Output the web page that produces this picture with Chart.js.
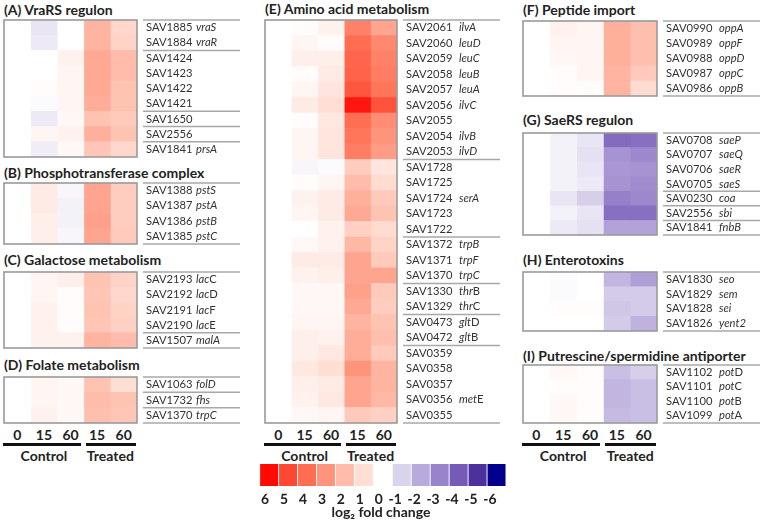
<!DOCTYPE html>
<html>
<head>
<meta charset="utf-8">
<script src="https://cdn.jsdelivr.net/npm/chart.js@4.4.0/dist/chart.umd.min.js"></script>
<style>
  body { margin: 0; background: #fff; }
  #fig { position: relative; width: 760px; height: 523px; font-family: Lato, "Open Sans", sans-serif; color: #222; overflow: hidden; }
  .t { position: absolute; font-weight: bold; font-size: 14px; white-space: nowrap; line-height: 16px; }
  .c { position: absolute; font-weight: bold; font-size: 14px; line-height: 16px; text-align: center; width: 40px; }
  .bar { position: absolute; background: #111; height: 3px; }
  canvas { position: absolute; }
</style>
</head>
<body>
<div id="fig"></div>
<script>
// time points (minutes) and groups
var timePoints = ['0', '15', '60', '15', '60'];
var groupNames = ['Control', 'Treated'];

// each row: control 0, control 15, control 60, treated 15, treated 60 (log2 fold change)
var vraIds = ['SAV1885', 'SAV1884', 'SAV1424', 'SAV1423', 'SAV1422', 'SAV1421', 'SAV1650', 'SAV2556', 'SAV1841'];
var vraGenes = ['vraS', 'vraR', '', '', '', '', '', '', 'prsA'];
var vraValues = [
  [0, -0.6, 0, 2.2, 1.2], [0, -0.5, 0, 2.2, 1.3], [0, 0, 0.4, 2.5, 2.0],
  [0, 0, 0.3, 2.5, 2.0], [0, 0.1, 0.3, 2.5, 1.8], [0, -0.1, 0.3, 2.4, 1.8],
  [0, -0.5, 0.2, 1.8, 1.6], [0, 0.3, 0.4, 2.3, 1.8], [0, -0.4, 0.2, 1.7, 1.2]
];

var pstIds = ['SAV1388', 'SAV1387', 'SAV1386', 'SAV1385'];
var pstGenes = ['pstS', 'pstA', 'pstB', 'pstC'];
var pstValues = [[0, 0.6, -0.2, 2.6, 1.5], [0, 0.6, -0.3, 2.6, 1.5], [0, 0.5, -0.3, 2.7, 1.5], [0, 0.5, -0.2, 2.6, 1.6]];

var galIds = ['SAV2193', 'SAV2192', 'SAV2191', 'SAV2190', 'SAV1507'];
var galGenes = ['lac|C', 'lac|D', 'lac|F', 'lac|E', 'malA'];
var galValues = [[0, 0.3, 0.5, 1.8, 1.3], [0, 0.3, 0.1, 1.7, 1.2], [0, 0.4, 0.1, 1.8, 1.3], [0, 0.4, 0.1, 1.7, 1.4], [0, 0.4, 0.4, 2.2, 2.0]];

var folIds = ['SAV1063', 'SAV1732', 'SAV1370'];
var folGenes = ['folD', 'fhs', 'trpC'];
var folValues = [[0, 0.3, 0.2, 1.8, 1.0], [0, 0.3, 0.2, 2.0, 1.8], [0, 0.4, 0.2, 1.9, 1.7]];

var aaIds = ['SAV2061', 'SAV2060', 'SAV2059', 'SAV2058', 'SAV2057', 'SAV2056', 'SAV2055', 'SAV2054', 'SAV2053',
  'SAV1728', 'SAV1725', 'SAV1724', 'SAV1723', 'SAV1722', 'SAV1372', 'SAV1371', 'SAV1370', 'SAV1330', 'SAV1329',
  'SAV0473', 'SAV0472', 'SAV0359', 'SAV0358', 'SAV0357', 'SAV0356', 'SAV0355'];
var aaGenes = ['ilvA', 'leuD', 'leuC', 'leuB', 'leuA', 'ilvC', '', 'ilvB', 'ilvD',
  '', '', 'serA', '', '', 'trpB', 'trpF', 'trpC', 'thr|B', 'thr|C',
  'glt|D', 'glt|B', '', '', '', 'met|E', ''];
var aaValues = [
  [0, 0.1, 0.4, 3.5, 2.6], [0, 0.3, 0.1, 4.0, 3.3], [0, 0.5, 0.5, 4.2, 3.5], [0, 0.1, 0.6, 4.3, 3.6],
  [0, 0.3, 0.8, 4.6, 3.8], [0, 0.6, 1.0, 5.8, 4.7], [0, 0.1, 0.7, 4.0, 3.2], [0, 0.3, 0.8, 3.8, 3.0],
  [0, 0.3, 0.8, 3.6, 2.8], [0, -0.2, -0.1, 1.5, 0.8], [0, 0.1, 0.3, 2.0, 1.1], [0, 0.4, 0.6, 2.3, 1.6],
  [0, 0.3, 0.6, 2.5, 1.8], [0, 0, 0.4, 1.4, 1.1], [0, 0.2, 0.4, 2.1, 1.3], [0, 0.6, 0.6, 2.6, 1.6],
  [0, 0.4, 0.5, 2.6, 2.6], [0, 0.2, 0.2, 2.7, 1.6], [0, 0.2, 0.2, 2.5, 1.5], [0, 0.3, 0.3, 2.2, 1.8],
  [0, 0.5, 0.4, 2.4, 1.9], [0, 0.5, 0.7, 2.4, 1.6], [0, 0.7, 1.0, 3.0, 2.2], [0, 0.5, 0.6, 2.6, 2.2],
  [0, 0.4, 0.7, 2.6, 2.1], [0, 0.2, 0.3, 1.6, 1.4]
];

var oppIds = ['SAV0990', 'SAV0989', 'SAV0988', 'SAV0987', 'SAV0986'];
var oppGenes = ['oppA', 'oppF', 'oppD', 'oppC', 'oppB'];
var oppValues = [[0, 0.4, 0.3, 2.3, 1.9], [0, 0.3, 0.3, 2.3, 1.9], [0, 0.2, 0.3, 2.3, 1.9], [0, 0.1, 0.3, 2.2, 1.6], [0, 0.1, 0.1, 2.2, 1.1]];

var saeIds = ['SAV0708', 'SAV0707', 'SAV0706', 'SAV0705', 'SAV0230', 'SAV2556', 'SAV1841'];
var saeGenes = ['saeP', 'saeQ', 'saeR', 'saeS', 'coa', 'sbi', 'fnbB'];
var saeValues = [
  [0, -0.3, -0.6, -3.6, -3.5], [0, -0.3, -0.7, -2.6, -2.9], [0, -0.3, -0.6, -2.5, -2.6],
  [0, -0.3, -0.5, -2.6, -2.8], [0, -0.6, -1.1, -3.1, -2.9], [0, -0.3, -0.6, -3.5, -3.5], [0, -0.5, -0.7, -2.2, -2.2]
];

var entIds = ['SAV1830', 'SAV1829', 'SAV1828', 'SAV1826'];
var entGenes = ['seo', 'sem', 'sei', 'yent2'];
var entValues = [[0, -0.1, 0, -1.7, -2.3], [0, -0.1, 0, -1.2, -1.2], [0, 0.1, 0.1, -1.3, -1.2], [0, 0, 0, -1.2, -1.8]];

var potIds = ['SAV1102', 'SAV1101', 'SAV1100', 'SAV1099'];
var potGenes = ['pot|D', 'pot|C', 'pot|B', 'pot|A'];
var potValues = [[0, 0.2, 0.1, -1.5, -1.1], [0, 0.1, 0.1, -1.7, -1.5], [0, 0.2, 0.1, -1.7, -1.5], [0, 0.2, 0.1, -1.6, -1.5]];

// colour key
var scaleSteps = [6, 5, 4, 3, 2, 1, 0, -1, -2, -3, -4, -5, -6];
var scaleTitle = 'log\u2082 fold change';

var redStops = [[255, 255, 255], [255, 222, 212], [255, 188, 170], [255, 148, 124], [255, 110, 82], [255, 72, 50], [255, 10, 5]];
var blueStops = [[255, 255, 255], [218, 211, 236], [184, 170, 220], [152, 132, 203], [118, 90, 184], [76, 48, 158], [0, 0, 140]];

function heat(v) {
  var stops = v >= 0 ? redStops : blueStops;
  var a = Math.min(Math.abs(v), 6);
  var i = Math.min(Math.floor(a), 5), f = a - i;
  var c0 = stops[i], c1 = stops[i + 1];
  var c = c0.map(function (x, k) { return Math.round(x + (c1[k] - x) * f); });
  return 'rgb(' + c.join(',') + ')';
}

var fig = document.getElementById('fig');

function addText(cls, txt, left, top, extra) {
  var d = document.createElement('div');
  d.className = cls;
  d.textContent = txt;
  d.style.left = left + 'px';
  d.style.top = top + 'px';
  if (extra) for (var k in extra) d.style[k] = extra[k];
  fig.appendChild(d);
  return d;
}

// frame, row labels, gene names and group separators
var panelDeco = {
  id: 'panelDeco',
  afterDraw: function (chart) {
    var o = chart.options.deco, ctx = chart.ctx, a = chart.chartArea, ys = chart.scales.y;
    var n = o.ids.length, rowH = (a.bottom - a.top) / n;
    ctx.save();
    ctx.strokeStyle = '#9a9a9a';
    ctx.lineWidth = 1.6;
    ctx.strokeRect(a.left, a.top, a.right - a.left, a.bottom - a.top);
    ctx.strokeStyle = '#a8a8a8';
    ctx.lineWidth = 1.5;
    o.breaks.forEach(function (b) {
      var y = a.top + b * rowH;
      ctx.beginPath();
      ctx.moveTo(a.right + 6, y);
      ctx.lineTo(a.right + 103, y);
      ctx.stroke();
    });
    ctx.fillStyle = '#333';
    ctx.textBaseline = 'middle';
    o.ids.forEach(function (id, i) {
      var y = ys.getPixelForValue(i);
      ctx.font = '11.2px Lato';
      ctx.fillText(id, a.right + 9, y);
      var g = o.genes[i];
      if (!g) return;
      var parts = g.split('|');
      var x = a.right + o.geneOff;
      ctx.font = 'italic 11.2px Lato';
      ctx.fillText(parts[0], x, y);
      if (parts[1]) {
        x += ctx.measureText(parts[0]).width;
        ctx.font = '11.2px Lato';
        ctx.fillText(parts[1], x, y);
      }
    });
    ctx.restore();
  }
};

function panel(p) {
  addText('t', p.title, p.x, p.ty - 8);
  var cv = document.createElement('canvas');
  var W = p.w + 2 + 106, H = p.h + 2;
  cv.width = W; cv.height = H;
  cv.style.left = (p.x - 1) + 'px';
  cv.style.top = (p.y - 1) + 'px';
  fig.appendChild(cv);
  new Chart(cv.getContext('2d'), {
    type: 'bar',
    data: {
      labels: p.ids,
      datasets: timePoints.map(function (tp, j) {
        return {
          label: tp,
          data: p.ids.map(function () { return 1; }),
          backgroundColor: p.values.map(function (r) { return heat(r[j]); }),
          borderWidth: 0,
          barPercentage: 1,
          categoryPercentage: 1
        };
      })
    },
    options: {
      indexAxis: 'y',
      responsive: false,
      animation: false,
      events: [],
      layout: { padding: { top: 1, bottom: 1, left: 1, right: 107 } },
      deco: { ids: p.ids, genes: p.genes, breaks: p.breaks, geneOff: p.geneOff },
      plugins: { legend: { display: false }, tooltip: { enabled: false } },
      scales: {
        x: { stacked: true, min: 0, max: 5, display: false },
        y: { stacked: true, display: false }
      }
    },
    plugins: [panelDeco]
  });
}

function timeAxis(x, w) {
  timePoints.forEach(function (tp, j) {
    addText('c', tp, x + w * (j + 0.5) / 5 - 20, 427);
  });
  var split = x + w * 3 / 5;
  var b1 = document.createElement('div'); b1.className = 'bar';
  b1.style.left = (x - 1) + 'px'; b1.style.top = '443px'; b1.style.width = (split - x - 2) + 'px';
  fig.appendChild(b1);
  var b2 = document.createElement('div'); b2.className = 'bar';
  b2.style.left = (split + 2) + 'px'; b2.style.top = '443px'; b2.style.width = (x + w - split - 3) + 'px';
  fig.appendChild(b2);
  addText('c', groupNames[0], (x + split) / 2 - 35, 448, { width: '70px' });
  addText('c', groupNames[1], (split + x + w) / 2 - 35, 448, { width: '70px' });
}

panel({ title: '(A) VraRS regulon', ids: vraIds, genes: vraGenes, values: vraValues, breaks: [0, 2, 6, 7, 8], x: 4, y: 20, w: 133, h: 137, ty: 10, geneOff: 59 });
panel({ title: '(B) Phosphotransferase complex', ids: pstIds, genes: pstGenes, values: pstValues, breaks: [0, 4], x: 4, y: 183, w: 133, h: 61, ty: 173, geneOff: 59 });
panel({ title: '(C) Galactose metabolism', ids: galIds, genes: galGenes, values: galValues, breaks: [0, 4, 5], x: 4, y: 272, w: 133, h: 76, ty: 260, geneOff: 59 });
panel({ title: '(D) Folate metabolism', ids: folIds, genes: folGenes, values: folValues, breaks: [0, 1, 2, 3], x: 4, y: 377, w: 133, h: 46, ty: 365, geneOff: 59 });
panel({ title: '(E) Amino acid metabolism', ids: aaIds, genes: aaGenes, values: aaValues, breaks: [0, 9, 14, 17, 19, 21, 26], x: 265, y: 20, w: 132, h: 403, ty: 9, geneOff: 62 });
panel({ title: '(F) Peptide import', ids: oppIds, genes: oppGenes, values: oppValues, breaks: [0, 5], x: 523, y: 21, w: 134, h: 75, ty: 10, geneOff: 62 });
panel({ title: '(G) SaeRS regulon', ids: saeIds, genes: saeGenes, values: saeValues, breaks: [0, 4, 5, 6, 7], x: 523, y: 133, w: 134, h: 102, ty: 120, geneOff: 62 });
panel({ title: '(H) Enterotoxins', ids: entIds, genes: entGenes, values: entValues, breaks: [0, 4], x: 523, y: 272, w: 134, h: 59, ty: 260, geneOff: 62 });
panel({ title: '(I) Putrescine/spermidine antiporter', ids: potIds, genes: potGenes, values: potValues, breaks: [0, 4], x: 523, y: 365, w: 134, h: 58, ty: 356, geneOff: 62 });

timeAxis(4, 133);
timeAxis(265, 132);
timeAxis(523, 134);

// colour key
var kc = document.createElement('canvas');
kc.width = 250; kc.height = 44;
kc.style.left = '256px'; kc.style.top = '464px';
fig.appendChild(kc);
new Chart(kc.getContext('2d'), {
  type: 'bar',
  data: {
    labels: scaleSteps.map(String),
    datasets: [{
      data: scaleSteps.map(function () { return 1; }),
      backgroundColor: scaleSteps.map(function (s) { return heat(s); }),
      borderWidth: 0,
      barPercentage: 0.95,
      categoryPercentage: 1
    }]
  },
  options: {
    responsive: false,
    animation: false,
    events: [],
    layout: { padding: 0 },
    plugins: { legend: { display: false }, tooltip: { enabled: false } },
    scales: {
      x: {
        grid: { display: false, drawTicks: false },
        border: { display: false },
        ticks: { padding: 5, color: '#222', font: { family: 'Lato', size: 14, weight: 'bold' } }
      },
      y: { display: false, min: 0, max: 1 }
    }
  }
});
addText('c', scaleTitle, 381 - 70, 504, { width: '140px' });
</script>
</body>
</html>
